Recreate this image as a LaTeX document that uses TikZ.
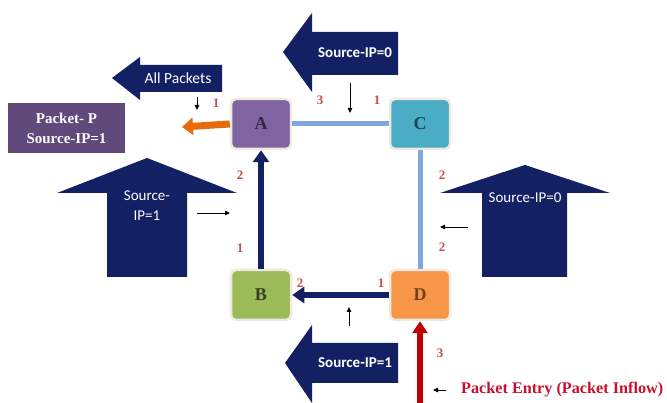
\documentclass[tikz,border=0pt]{standalone}
\usepackage{fontspec}
\setmainfont{Liberation Serif}
\newfontfamily\calib{Carlito}
\usetikzlibrary{arrows.meta}
\definecolor{navy}{HTML}{132063}
\definecolor{boxpurple}{HTML}{604A7B}
\definecolor{nA}{HTML}{8064A2}
\definecolor{nB}{HTML}{9BBB59}
\definecolor{nC}{HTML}{4BACC6}
\definecolor{nD}{HTML}{F79646}
\definecolor{lblue}{HTML}{7FA7DC}
\definecolor{orng}{HTML}{E46C0A}
\definecolor{dred}{HTML}{C00000}
\definecolor{lred}{HTML}{C0504D}
\definecolor{cream}{HTML}{EFEAE0}
\definecolor{entryred}{HTML}{C8102E}
\begin{document}
\begin{tikzpicture}[x=1pt,y=-1pt,
  router/.style={draw=cream,line width=2.5pt,rounded corners=5pt,minimum width=60pt,minimum height=50pt,font=\bfseries\fontsize{18}{18}\selectfont},
  bigarrow/.style={fill=navy,draw=none},
  arrtext/.style={text=white,font=\calib\fontsize{15}{15}\selectfont,inner sep=0pt},
  num/.style={text=lred,font=\bfseries\fontsize{13}{13}\selectfont,inner sep=0pt},
  tiny/.style={-{Triangle[length=5pt,width=4.5pt]},line width=0.8pt,black},
  thick navy/.style={navy,line width=6pt,-{Triangle[length=12pt,width=16pt]}},
  lightlink/.style={lblue,line width=5pt}]
\useasboundingbox (0,0) rectangle (667,403);
% big arrows
\fill[bigarrow] (112,78) -- (140,57) -- (140,65) -- (222,65) -- (222,92) -- (140,92) -- (140,100) -- cycle;
\node[arrtext,font=\calib\fontsize{15.5}{15.5}\selectfont] (allp) at (178,78) {All Packets};
\fill[bigarrow] (283,52) -- (312,13) -- (312,32) -- (398,32) -- (398,75) -- (312,75) -- (312,92) -- cycle;
\node[arrtext,font=\calib\bfseries\fontsize{15}{15}\selectfont] (sip0t) at (355,53) {Source-IP=0};
\fill[bigarrow] (285,363) -- (312,325) -- (312,343) -- (398,343) -- (398,383) -- (312,383) -- (312,403) -- cycle;
\node[arrtext,font=\calib\bfseries\fontsize{15}{15}\selectfont] (sip1b) at (355,363) {Source-IP=1};
\fill[bigarrow] (147,158) -- (237,193) -- (187,193) -- (187,277) -- (107,277) -- (107,193) -- (57,193) -- cycle;
\node[arrtext,align=center,font=\calib\fontsize{15}{20}\selectfont] (sip1l) at (147,206) {Source-\\IP=1};
\fill[bigarrow] (525,165) -- (610,193) -- (567,193) -- (567,277) -- (482,277) -- (482,193) -- (440,193) -- cycle;
\node[arrtext] (sip0r) at (525,198) {Source-IP=0};
% packet box
\node[fill=boxpurple,text=white,font=\bfseries\fontsize{15}{20}\selectfont,align=center,minimum width=117pt,minimum height=50pt,inner sep=0pt] (pkt) at (66.5,128) {Packet- P\\Source-IP=1};
% routers
\node[router,fill=nA,text=nA!40!black] (A) at (261,124) {A};
\node[router,fill=nC,text=nC!40!black] (C) at (420,124) {C};
\node[router,fill=nB,text=nB!35!black] (B) at (261,295) {B};
\node[router,fill=nD,text=nD!45!black] (D) at (420,295) {D};
% links
\draw[lightlink] (A.east) -- (C.west);
\draw[lightlink] (C.south) -- (D.north);
\draw[thick navy] (B.north) -- (A.south);
\draw[thick navy] (D.west) -- (B.east);
\coordinate (orgend) at (182,127);
\draw[orng,line width=7pt,-{Triangle[length=11pt,width=17pt]}] (A.west) -- (orgend);
\coordinate (redstart) at (420,403);
\draw[dred,line width=6pt,-{Triangle[length=12pt,width=15pt]}] (redstart) -- (D.south);
% small arrows
\coordinate (s1a) at (197,97); \coordinate (s1b) at (197,110);
\draw[tiny] (s1a) -- (s1b);
\coordinate (s2a) at (350,83); \coordinate (s2b) at (350,113);
\draw[tiny] (s2a) -- (s2b);
\coordinate (s3a) at (197,213); \coordinate (s3b) at (230,213);
\draw[tiny] (s3a) -- (s3b);
\coordinate (s4a) at (468,227); \coordinate (s4b) at (440,227);
\draw[tiny] (s4a) -- (s4b);
\coordinate (s5a) at (349,326); \coordinate (s5b) at (349,307);
\draw[tiny] (s5a) -- (s5b);
\coordinate (s6a) at (446,390); \coordinate (s6b) at (433,390);
\draw[tiny] (s6a) -- (s6b);
% numbers
\node[num] (n1) at (216,103) {1};
\node[num] (n2) at (320,100) {3};
\node[num] (n3) at (377,100) {1};
\node[num] (n4) at (240,175) {2};
\node[num] (n5) at (240,248) {1};
\node[num] (n6) at (442,175) {2};
\node[num] (n7) at (442,247) {2};
\node[num] (n8) at (300,283) {2};
\node[num] (n9) at (381,283) {1};
\node[num] (n10) at (440,353) {3};
% entry text
\node[anchor=west,text=entryred,font=\bfseries\fontsize{16.2}{16.2}\selectfont,inner sep=0pt] (entry) at (461,390) {Packet Entry (Packet Inflow)};
\end{tikzpicture}
\end{document}
